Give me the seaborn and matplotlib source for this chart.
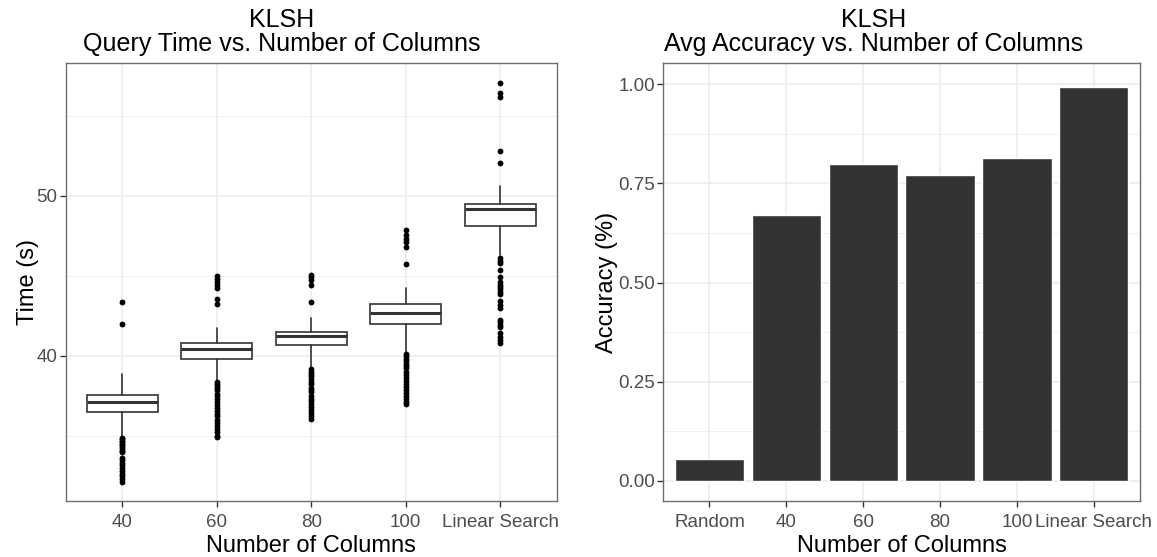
import matplotlib
matplotlib.use("Agg")
import matplotlib.pyplot as plt
import numpy as np
import pandas as pd
import seaborn as sns

# ---- query time per column count: box statistics (seconds) ----
groups = ["40", "60", "80", "100", "Linear Search"]
q1 = [36.47, 39.77, 40.67, 41.96, 48.14]
medians = [37.12, 40.44, 41.25, 42.69, 49.16]
q3 = [37.54, 40.77, 41.50, 43.24, 49.48]
whisker_lo = [35.00, 38.48, 39.27, 40.19, 46.30]
whisker_hi = [38.85, 41.75, 42.34, 44.26, 50.63]

# outlying query times per group
outliers_40 = [43.34, 41.98,
               34.85, 34.76, 34.66, 34.57, 34.47, 34.38, 34.27, 34.16, 34.06, 33.99,
               33.57, 33.46, 33.31, 33.14, 32.96, 32.80, 32.62, 32.46, 32.30, 32.11]
outliers_60 = [44.99, 44.80, 44.62, 44.45, 44.25, 43.55, 43.25,
               38.37, 38.25, 38.12, 38.00, 37.85, 37.62, 37.45, 37.30, 37.10, 36.90,
               36.75, 36.55, 36.35, 36.20, 36.00, 35.80, 35.60, 35.40, 35.20, 35.00, 34.89]
outliers_80 = [45.05, 44.90, 44.74, 44.43, 43.34,
               39.14, 39.00, 38.85, 38.70, 38.55, 38.35, 38.20, 38.00, 37.85, 37.70,
               37.50, 37.30, 37.15, 37.00, 36.80, 36.60, 36.40, 36.20, 36.01]
outliers_100 = [47.87, 47.56, 47.31, 47.10, 46.83, 45.74,
                40.10, 39.95, 39.80, 39.65, 39.50, 39.35, 39.20, 38.95, 38.80, 38.60,
                38.40, 38.25, 38.05, 37.85, 37.65, 37.45, 37.30, 37.10, 36.95]
outliers_ls = [57.06, 56.43, 56.22, 52.84, 52.05,
               46.10, 45.95, 45.80, 45.35, 44.95, 44.60, 44.45, 44.30, 44.15, 44.00,
               43.85, 43.40, 43.20, 43.00, 42.25, 42.10, 41.95, 41.80, 41.40, 41.20,
               41.00, 40.80]

# ---- average accuracy per column count ----
bar_labels = ["Random", "40", "60", "80", "100", "Linear Search"]
accuracy = [0.054, 0.671, 0.800, 0.772, 0.813, 0.993]

# ---- styling (black & white theme) ----
sns.set_theme(style="white")
plt.rcParams["font.family"] = ["Liberation Sans", "DejaVu Sans"]

BORDER = "#6E6E6E"
GRID = "#EBEBEB"
TICKCOL = "#333333"
LABELCOL = "#4D4D4D"


def style_axes(ax, minor_y):
    ax.set_axisbelow(True)
    for s in ax.spines.values():
        s.set_visible(True)
        s.set_color(BORDER)
        s.set_linewidth(1.0)
    ax.set_yticks(minor_y, minor=True)
    ax.grid(True, which="major", axis="both", color=GRID, linewidth=1.1)
    ax.grid(True, which="minor", axis="y", color=GRID, linewidth=0.55)
    ax.tick_params(axis="both", which="major", length=4, width=1, color=TICKCOL,
                   labelsize=13.5, labelcolor=LABELCOL, direction="out",
                   bottom=True, left=True, pad=2)
    ax.tick_params(axis="x", which="major", pad=5.5)
    ax.tick_params(axis="both", which="minor", length=0)


fig = plt.figure(figsize=(11.57, 5.57), dpi=100)
ax1 = fig.add_axes([0.0568, 0.1011, 0.4244, 0.7853])
ax2 = fig.add_axes([0.5733, 0.1011, 0.4120, 0.7853])

# ---- left: boxplot of query times ----
outlier_sets = [outliers_40, outliers_60, outliers_80, outliers_100, outliers_ls]
out_df = pd.DataFrame({
    "group": np.repeat(groups, [len(o) for o in outlier_sets]),
    "time": np.concatenate(outlier_sets),
})
sns.stripplot(data=out_df, x="group", y="time", order=groups, jitter=False,
              color="black", size=4.2, linewidth=0, ax=ax1, zorder=4)

stats = [dict(label=g, q1=a, med=m, q3=b, whislo=lo, whishi=hi, fliers=[])
         for g, a, m, b, lo, hi in zip(groups, q1, medians, q3, whisker_lo, whisker_hi)]
ax1.bxp(stats, positions=range(len(groups)), widths=0.75, showcaps=False,
        showfliers=False, patch_artist=True, manage_ticks=False,
        boxprops=dict(facecolor="white", edgecolor="#333333", linewidth=1.2),
        medianprops=dict(color="#333333", linewidth=2.2),
        whiskerprops=dict(color="#333333", linewidth=1.2), zorder=3)

ax1.set_xlim(-0.6, 4.6)
ax1.set_ylim(30.92, 58.31)
ax1.set_xticks(range(len(groups)))
ax1.set_xticklabels(groups)
ax1.set_yticks([40, 50])
style_axes(ax1, [35, 45, 55])
ax1.set_title("KLSH\nQuery Time vs. Number of Columns", fontsize=18, pad=9,
              linespacing=1.0, color="black", x=0.4405)
ax1.set_xlabel("Number of Columns", fontsize=17, labelpad=3, color="black")
ax1.set_ylabel("Time (s)", fontsize=17, labelpad=-2, color="black")

# ---- right: bar chart of accuracy ----
acc_df = pd.DataFrame({"cols": bar_labels, "acc": accuracy})
sns.barplot(data=acc_df, x="cols", y="acc", order=bar_labels, color="#333333",
            saturation=1, width=0.9, ax=ax2, zorder=3)
ax2.set_xlim(-0.6, 5.6)
ax2.set_ylim(-0.05, 1.053)
ax2.set_xticks(range(len(bar_labels)))
ax2.set_xticklabels(bar_labels)
ax2.set_yticks([0.0, 0.25, 0.5, 0.75, 1.0])
ax2.set_yticklabels(["0.00", "0.25", "0.50", "0.75", "1.00"])
style_axes(ax2, [0.125, 0.375, 0.625, 0.875])
ax2.set_title("KLSH\nAvg Accuracy vs. Number of Columns", fontsize=18, pad=9,
              linespacing=1.0, color="black", x=0.442)
ax2.set_xlabel("Number of Columns", fontsize=17, labelpad=3, color="black")
ax2.set_ylabel("Accuracy (%)", fontsize=17, labelpad=0, color="black")

fig.savefig("out.png", dpi=100, facecolor="white")
